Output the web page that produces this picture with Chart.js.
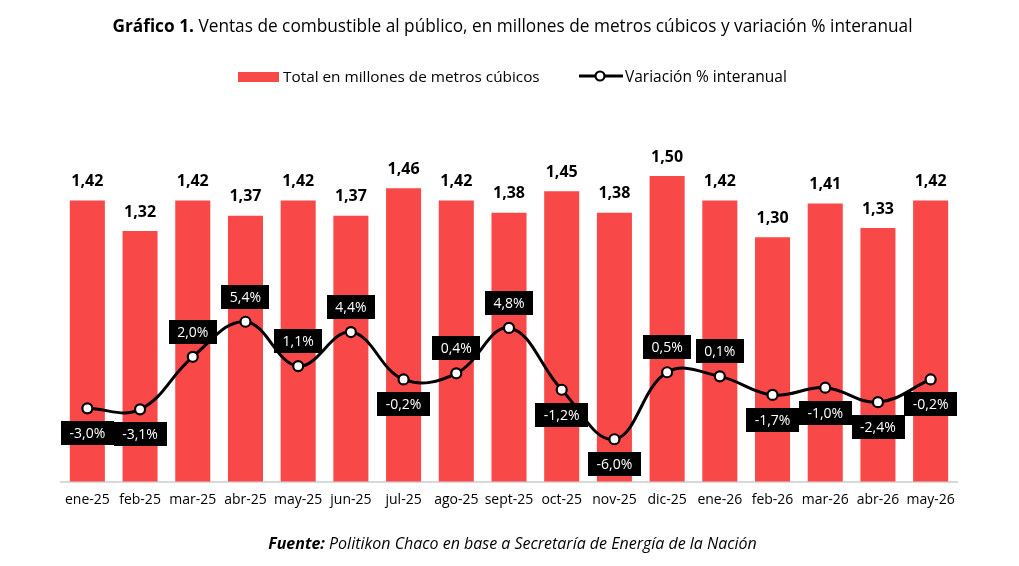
<!DOCTYPE html>
<html>
<head>
<meta charset="utf-8">
<script src="https://cdn.jsdelivr.net/npm/chart.js@4.4.1/dist/chart.umd.min.js"></script>
<style>
  html,body{margin:0;padding:0;background:#fff;}
  body{width:1019px;height:566px;position:relative;overflow:hidden;font-family:"Open Sans",sans-serif;color:#000;}
  #chartWrap{position:absolute;left:0;top:0;width:1019px;height:566px;}
  .line{position:absolute;left:0;width:1019px;text-align:center;white-space:nowrap;}
  .fit{display:inline-block;}
  #title{top:16px;line-height:20px;font-size:16px;}
  #source{top:533px;line-height:20px;font-size:15px;font-style:italic;}
  #legend{position:absolute;top:66px;left:0;width:1019px;height:20px;font-size:15px;line-height:20px;}
  .lg{position:absolute;top:0;white-space:nowrap;}
</style>
</head>
<body>
<div id="chartWrap"><canvas id="c" width="1019" height="566"></canvas></div>
<div class="line" id="title" style="left:3px"><span class="fit" data-w="801"><b>Gráfico 1.</b> Ventas de combustible al público, en millones de metros cúbicos y variación % interanual</span></div>
<div id="legend">
  <div class="lg" style="left:238px;top:5.7px;width:41px;height:10px;background:#F94848"></div>
  <div class="lg" style="left:283px"><span class="fit" data-w="257">Total en millones de metros cúbicos</span></div>
  <svg class="lg" style="left:578px;top:0" width="46" height="20"><line x1="1" y1="10" x2="45" y2="10" stroke="#000" stroke-width="3"/><circle cx="22" cy="10" r="4.5" fill="#fff" stroke="#000" stroke-width="2.2"/></svg>
  <div class="lg" style="left:625px"><span class="fit" data-w="162">Variación % interanual</span></div>
</div>
<div class="line" id="source" style="left:3px"><span class="fit" data-w="489"><b>Fuente:</b> Politikon Chaco en base a Secretaría de Energía de la Nación</span></div>

<script>
// ---- Data ----
const categories = ["ene-25","feb-25","mar-25","abr-25","may-25","jun-25","jul-25","ago-25","sept-25","oct-25","nov-25","dic-25","ene-26","feb-26","mar-26","abr-26","may-26"];
const ventas = [1.42,1.32,1.42,1.37,1.42,1.37,1.46,1.42,1.38,1.45,1.38,1.50,1.42,1.30,1.41,1.33,1.42];
const variacion = [-3.0,-3.1,2.0,5.4,1.1,4.4,-0.2,0.4,4.8,-1.2,-6.0,0.5,0.1,-1.7,-1.0,-2.4,-0.2];
const labelSide = ["below","below","above","above","above","above","below","above","above","below","below","above","above","below","below","below","below"];

function fmt(v, d){ return v.toFixed(d).replace('.', ','); }

// fit text widths
document.querySelectorAll('.fit').forEach(el=>{
  const target = parseFloat(el.dataset.w);
  const parent = el.parentElement;
  const fs = parseFloat(getComputedStyle(parent).fontSize);
  const w = el.getBoundingClientRect().width;
  if (w > 0) parent.style.fontSize = (fs * target / w) + 'px';
});

const labelPlugin = {
  id: 'valueLabels',
  afterDatasetsDraw(chart){
    const ctx = chart.ctx;
    ctx.save();
    ctx.textAlign = 'center';
    ctx.textBaseline = 'middle';
    // bar labels
    const bm = chart.getDatasetMeta(0);
    ctx.font = 'bold 16px "Open Sans"';
    ctx.fillStyle = '#000';
    bm.data.forEach((bar, i) => {
      ctx.fillText(fmt(ventas[i], 2), bar.x, bar.y - 19);
    });
    // line labels
    const lm = chart.getDatasetMeta(1);
    ctx.font = '14px "Open Sans"';
    lm.data.forEach((pt, i) => {
      const txt = fmt(variacion[i], 1) + '%';
      const w = ctx.measureText(txt).width + 17;
      const h = 24;
      const cy = pt.y + (labelSide[i] === 'above' ? -25 : 25);
      ctx.fillStyle = '#000';
      ctx.fillRect(Math.round(pt.x - w/2), Math.round(cy - h/2), Math.round(w), h);
      ctx.fillStyle = '#fff';
      ctx.fillText(txt, pt.x, cy + 1);
    });
    ctx.restore();
  }
};

function draw(){
  new Chart(document.getElementById('c'), {
    type: 'bar',
    data: {
      labels: categories,
      datasets: [
        {
          type: 'bar',
          label: 'Total en millones de metros cúbicos',
          data: ventas,
          backgroundColor: '#F94848',
          borderWidth: 0,
          barPercentage: 0.665,
          categoryPercentage: 1,
          yAxisID: 'y',
          order: 2
        },
        {
          type: 'line',
          label: 'Variación % interanual',
          data: variacion,
          borderColor: '#000',
          borderWidth: 3,
          tension: 0.4,
          pointRadius: 5,
          pointBorderWidth: 2.2,
          pointBackgroundColor: '#fff',
          pointBorderColor: '#000',
          yAxisID: 'y2',
          order: 1
        }
      ]
    },
    options: {
      responsive: false,
      animation: false,
      layout: { padding: { left: 61, right: 62, top: 145.5, bottom: 54.5 } },
      plugins: { legend: { display: false }, tooltip: { enabled: false }, title: { display: false } },
      scales: {
        x: {
          grid: { display: false, drawTicks: false },
          border: { display: true, color: '#D9D9D9', width: 2 },
          ticks: { color: '#000', padding: 10, font: { family: '"Open Sans"', size: 14 }, maxRotation: 0, autoSkip: false },
          afterFit(scale){ scale.height = 30; }
        },
        y: { display: false, min: 0.5, max: 1.6 },
        y2: { display: false, min: -10.1, max: 22.5, position: 'right' }
      }
    },
    plugins: [labelPlugin]
  });
}
if (document.fonts && document.fonts.load) {
  Promise.all([
    document.fonts.load('16px "Open Sans"'),
    document.fonts.load('bold 16px "Open Sans"')
  ]).then(draw, draw);
} else { draw(); }
</script>
</body>
</html>
